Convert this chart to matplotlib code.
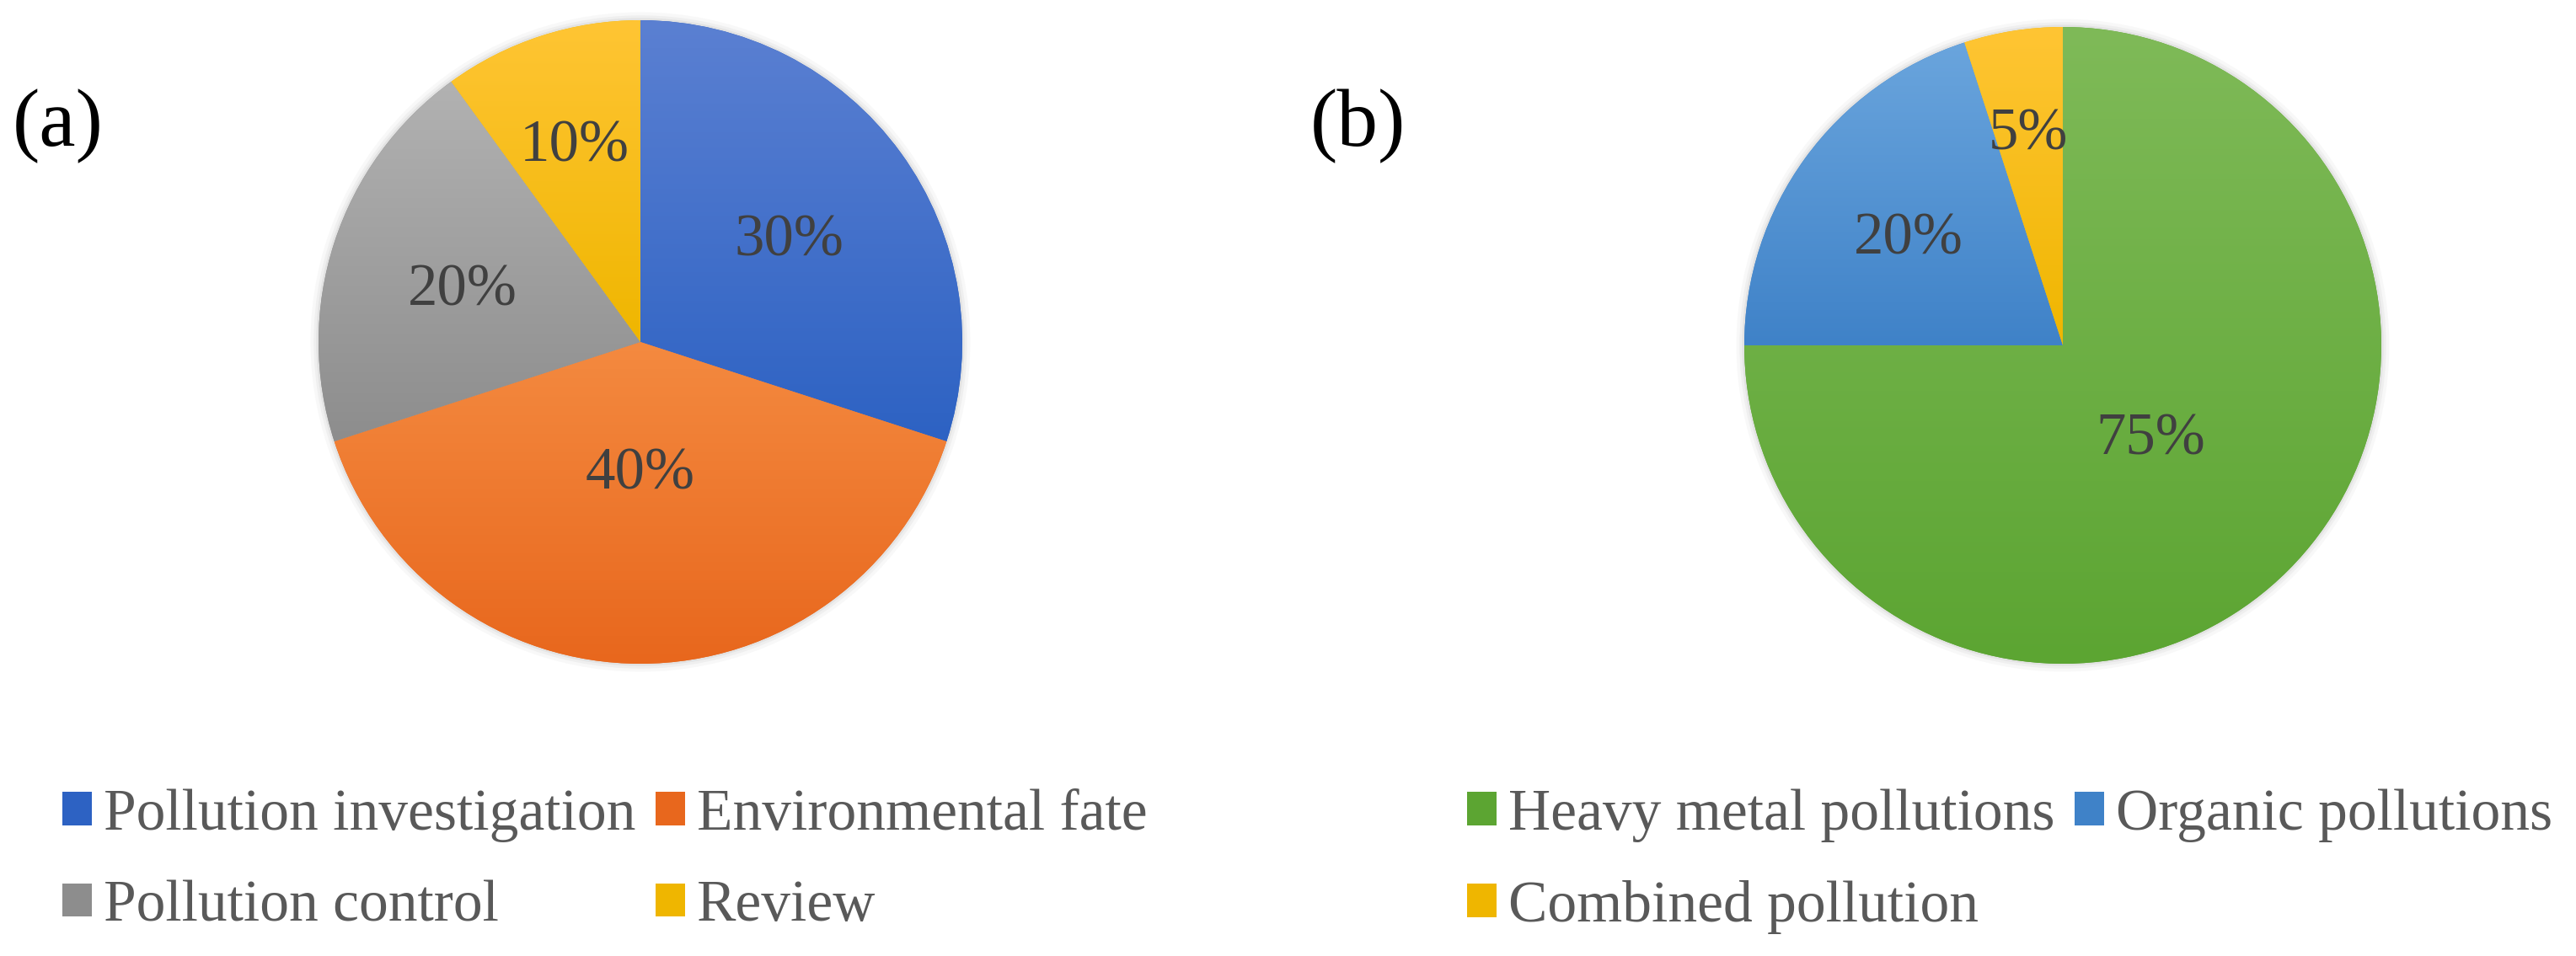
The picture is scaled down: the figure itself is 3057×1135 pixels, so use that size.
import matplotlib
matplotlib.use('Agg')
from matplotlib import pyplot as plt
from matplotlib.colors import LinearSegmentedColormap
from matplotlib.patches import Patch, Circle
import numpy as np

# Data
labels_a = ['Pollution investigation', 'Environmental fate', 'Pollution control', 'Review']
values_a = [30, 40, 20, 10]
labels_b = ['Heavy metal pollutions', 'Organic pollutions', 'Combined pollution']
values_b = [75, 20, 5]

# (top, bottom) gradient colours per slice
grad_a = [('#5b80d2', '#2d62c3'), ('#f48a40', '#e8671d'), ('#b2b2b2', '#8d8d8d'), ('#ffc534', '#efb600')]
grad_b = [('#7fba58', '#5ca532'), ('#6aa5dd', '#3f82c8'), ('#ffc534', '#efb600')]

W, H = 3057, 1135
fig = plt.figure(figsize=(W / 100, H / 100), dpi=100)
fig.patch.set_facecolor('white')
SERIF = ['Liberation Serif', 'DejaVu Serif']


def draw_pie(cx, cy, r, values, grads, label_dist):
    # cx, cy, r in pixels (y from top)
    pad = 1.06
    ax = fig.add_axes([(cx - r * pad) / W, (H - cy - r * pad) / H, 2 * r * pad / W, 2 * r * pad / H])
    wedges, _, autotexts = ax.pie(values, startangle=90, counterclock=False, radius=1,
                                  autopct='%d%%', pctdistance=0.6,
                                  colors=[g[1] for g in grads],
                                  textprops=dict(fontsize=51, color='#404040', family=SERIF))
    ax.axis('off')
    # soft shadow
    for k, a in zip([1.025, 1.015, 1.007], [0.05, 0.07, 0.1]):
        ax.add_patch(Circle((0, 0), k, facecolor='#808080', edgecolor='none', alpha=a, zorder=0))
    for w, (top, bot) in zip(wedges, grads):
        ext = w.get_path().get_extents(w.get_patch_transform())
        cmap = LinearSegmentedColormap.from_list('g', [top, bot])
        grad = np.linspace(0, 1, 256).reshape(-1, 1)
        im = ax.imshow(grad, cmap=cmap, aspect='auto', extent=[ext.x0, ext.x1, ext.y0, ext.y1],
                       origin='upper', zorder=w.get_zorder() + 0.1, interpolation='bilinear')
        im.set_clip_path(w)
        w.set_edgecolor('none')
    for w, t, d in zip(wedges, autotexts, label_dist):
        mid = np.deg2rad((w.theta1 + w.theta2) / 2)
        t.set_position((d * np.cos(mid), d * np.sin(mid) - 0.02))
        t.set_zorder(5)
    ax.set_xlim(-pad, pad)
    ax.set_ylim(-pad, pad)
    ax.set_aspect('equal')
    return wedges


wa = draw_pie(760, 406, 382, values_a, grad_a, [0.57, 0.39, 0.58, 0.66])
wb = draw_pie(2448, 410, 378, values_b, grad_b, [0.39, 0.60, 0.69])

fig.text(15 / W, 1 - 150 / H, '(a)', fontsize=70, family=SERIF, va='center', ha='left')
fig.text(1555 / W, 1 - 150 / H, '(b)', fontsize=70, family=SERIF, va='center', ha='left')


def draw_legend(x, y, labels, grads, order):
    handles = [Patch(facecolor=grads[i][1], edgecolor='none') for i in order]
    fig.legend(handles, [labels[i] for i in order], ncol=2, frameon=False,
               loc='upper left', bbox_to_anchor=(x / W, 1 - y / H),
               prop=dict(family=SERIF, size=50), labelcolor='#595959',
               handlelength=0.5, handleheight=0.5, handletextpad=0.2,
               columnspacing=0.35, labelspacing=0.65, borderpad=0, borderaxespad=0)


draw_legend(74, 936, labels_a, grad_a, [0, 2, 1, 3])
draw_legend(1741, 936, labels_b, grad_b, [0, 2, 1])

fig.savefig('out.png', dpi=100, facecolor='white')
